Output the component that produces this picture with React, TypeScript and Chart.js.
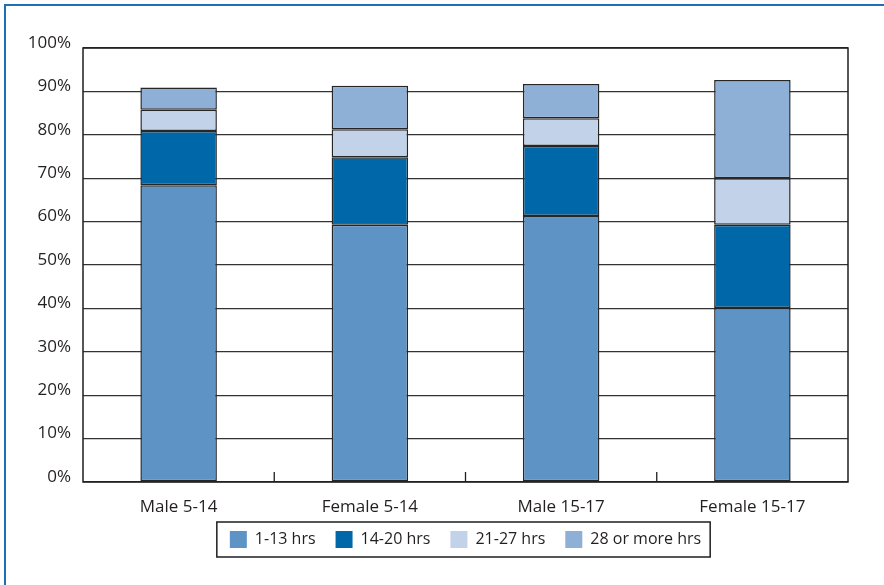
import React, { useEffect, useRef } from "react";
import { Chart, registerables } from "chart.js";

Chart.register(...registerables);

const categories = ["Male 5-14", "Female 5-14", "Male 15-17", "Female 15-17"];
const seriesNames = ["1-13 hrs", "14-20 hrs", "21-27 hrs", "28 or more hrs"];
const hrs1to13 = [68.4, 59.3, 61.3, 40.1];
const hrs14to20 = [12.5, 15.5, 16.1, 19.2];
const hrs21to27 = [4.9, 6.5, 6.4, 10.7];
const hrs28plus = [5.1, 10.0, 7.9, 22.6];
const seriesColors = ["#5e93c6", "#0067a8", "#c2d3e9", "#8eafd6"];
const yTicks = [0, 10, 20, 30, 40, 50, 60, 70, 80, 90, 100];

const FONT = "'Open Sans', sans-serif";
const TEXT = "#231f20";

const framePlugin = {
  id: "framePlugin",
  afterLayout(chart: any) {
    const lg = chart.legend;
    if (lg) {
      lg.top -= 4;
      lg.bottom -= 4;
    }
  },
  afterDatasetsDraw(chart: any) {
    const { ctx, chartArea } = chart;
    const x = chart.scales.x;
    ctx.save();
    ctx.strokeStyle = "#1e1e1e";
    ctx.lineWidth = 1.5;
    ctx.strokeRect(chartArea.left, chartArea.top, chartArea.right - chartArea.left, chartArea.bottom - chartArea.top);
    ctx.lineWidth = 1.3;
    for (let i = 1; i < categories.length; i++) {
      const px = (x.getPixelForValue(i - 1) + x.getPixelForValue(i)) / 2;
      ctx.beginPath();
      ctx.moveTo(px, chartArea.bottom);
      ctx.lineTo(px, chartArea.bottom - 10);
      ctx.stroke();
    }
    ctx.restore();
  },
  afterDraw(chart: any) {
    const lg = chart.legend;
    if (!lg || !lg.legendHitBoxes || !lg.legendHitBoxes.length) return;
    const hb = lg.legendHitBoxes;
    let l = Infinity, r = -Infinity, t = Infinity, b = -Infinity;
    hb.forEach((h: any) => {
      l = Math.min(l, h.left);
      r = Math.max(r, h.left + h.width);
      t = Math.min(t, h.top);
      b = Math.max(b, h.top + h.height);
    });
    const { ctx } = chart;
    ctx.save();
    ctx.strokeStyle = "#1e1e1e";
    ctx.lineWidth = 1.5;
    ctx.strokeRect(l - 13, t - 9, r - l + 22, b - t + 18);
    ctx.restore();
  },
};

export default function App() {
  const ref = useRef<HTMLCanvasElement | null>(null);

  useEffect(() => {
    if (!ref.current) return;
    const data = [hrs1to13, hrs14to20, hrs21to27, hrs28plus];
    const chart = new Chart(ref.current, {
      type: "bar",
      data: {
        labels: categories,
        datasets: seriesNames.map((name, i) => ({
          label: name,
          data: data[i],
          backgroundColor: seriesColors[i],
          borderColor: "#262626",
          borderWidth: 1.5,
          borderSkipped: false,
          categoryPercentage: 1,
          barPercentage: 0.4,
        })),
      },
      options: {
        animation: false,
        responsive: true,
        maintainAspectRatio: false,
        layout: { padding: { left: 0, right: 36, top: 48, bottom: 23 } },
        plugins: {
          tooltip: { enabled: false },
          legend: {
            position: "bottom",
            fullSize: false,
            labels: {
              boxWidth: 17,
              boxHeight: 17,
              padding: 20,
              color: TEXT,
              font: { family: FONT, size: 16 },
              generateLabels: (c: any) =>
                c.data.datasets.map((ds: any, i: number) => ({
                  text: ds.label,
                  fillStyle: ds.backgroundColor,
                  strokeStyle: ds.backgroundColor,
                  lineWidth: 0,
                  fontColor: TEXT,
                  datasetIndex: i,
                  hidden: false,
                })),
            },
          },
        },
        scales: {
          x: {
            stacked: true,
            grid: { display: false },
            border: { display: false },
            ticks: {
              color: TEXT,
              font: { family: FONT, size: 17 },
              padding: 7,
              maxRotation: 0,
            },
            afterFit: (s: any) => {
              s.height = 33;
            },
          },
          y: {
            stacked: true,
            min: 0,
            max: 100,
            afterBuildTicks: (s: any) => {
              s.ticks = yTicks.map((v) => ({ value: v }));
            },
            grid: { color: "#333333", lineWidth: 1.3, drawTicks: false },
            border: { display: false },
            ticks: {
              color: TEXT,
              font: { family: FONT, size: 17 },
              padding: 12,
              labelOffset: -5,
              callback: (v: any) => v + "%",
            },
            afterFit: (s: any) => {
              s.width = 83;
            },
          },
        },
      },
      plugins: [framePlugin],
    });
    return () => chart.destroy();
  }, []);

  return (
    <div style={{ position: "fixed", left: 0, top: 0, width: 884, height: 585, background: "#fff" }}>
      <div
        style={{
          position: "absolute",
          left: 4,
          top: 4,
          right: 0,
          bottom: 0,
          borderTop: "2px solid #1f6fb4",
          borderLeft: "2px solid #1f6fb4",
        }}
      />
      <canvas ref={ref} style={{ position: "absolute", left: 0, top: 0, width: 884, height: 585 }} />
    </div>
  );
}
